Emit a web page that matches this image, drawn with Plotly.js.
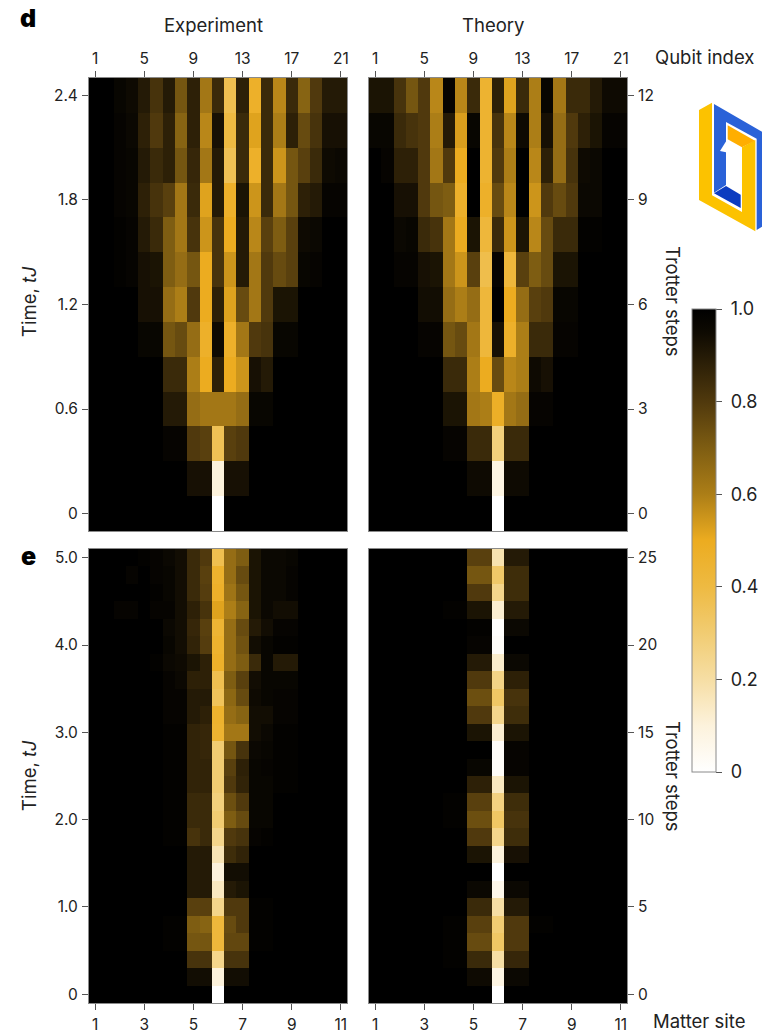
<!DOCTYPE html>
<html><head><meta charset="utf-8">
<script src="https://cdn.plot.ly/plotly-3.0.1.min.js"></script>
<style>html,body{margin:0;padding:0;background:#fff}#c{width:762px;height:1033px}</style>
</head><body><div id="c"></div>
<script>
// Rows listed from the top of each panel (latest Trotter step) down to step 0; 21 columns each.
const dExperiment = [
[1,1,.97,.95,.9,.82,.9,.72,.88,.62,.85,.37,.88,.47,.85,.58,.85,.68,.8,.9,.9],
[1,1,.98,.96,.88,.8,.88,.68,.88,.58,.93,.4,.85,.52,.85,.6,.88,.75,.82,.93,.93],
[1,1,.98,.97,.9,.85,.88,.72,.86,.62,.9,.36,.85,.47,.85,.55,.72,.78,.85,.95,.96],
[1,1,.98,.97,.88,.82,.78,.62,.85,.52,.9,.47,.92,.55,.85,.62,.72,.88,.9,.98,.98],
[1,1,.99,.98,.9,.85,.7,.62,.82,.55,.82,.5,.9,.58,.78,.7,.78,.95,.96,1,1],
[1,1,.99,.98,.93,.92,.7,.65,.72,.5,.82,.55,.9,.62,.8,.75,.78,.97,.98,1,1],
[1,1,1,1,.93,.93,.65,.6,.8,.5,.88,.52,.75,.62,.8,.92,.92,1,1,1,1],
[1,1,1,1,.97,.97,.72,.75,.65,.47,.95,.47,.62,.8,.82,.97,.97,1,1,1,1],
[1,1,1,1,1,1,.85,.85,.6,.5,.88,.5,.55,.93,.9,1,1,1,1,1,1],
[1,1,1,1,1,1,.9,.9,.65,.62,.62,.62,.65,.97,.97,1,1,1,1,1,1],
[1,1,1,1,1,1,.98,.98,.8,.78,.36,.78,.8,1,1,1,1,1,1,1,1],
[1,1,1,1,1,1,1,1,.93,.93,.1,.93,.93,1,1,1,1,1,1,1,1],
[1,1,1,1,1,1,1,1,1,1,0,1,1,1,1,1,1,1,1,1,1]
];
const dTheory = [
[.92,.92,.82,.72,.8,.58,.98,.58,.85,.45,.88,.52,.85,.6,.97,.62,.85,.85,.9,.95,.95],
[.97,.97,.85,.82,.8,.6,.9,.53,.97,.45,.82,.58,.95,.6,.93,.65,.8,.88,.92,.98,.98],
[1,.98,.88,.88,.8,.62,.8,.5,1,.45,.8,.6,1,.58,.88,.65,.82,.95,.96,1,1],
[1,1,.93,.93,.8,.72,.7,.47,1,.47,.75,.58,1,.55,.8,.75,.8,.96,.96,1,1],
[1,1,.96,.97,.85,.82,.62,.5,.92,.42,.85,.55,.92,.58,.75,.85,.85,.99,.99,1,1],
[1,1,.98,.98,.93,.92,.62,.55,.78,.38,.98,.42,.78,.7,.75,.92,.92,1,1,1,1],
[1,1,1,1,.94,.94,.65,.6,.65,.42,1,.5,.65,.78,.8,.97,.97,1,1,1,1],
[1,1,1,1,.98,.98,.72,.75,.62,.42,.93,.47,.6,.85,.85,.98,.98,1,1,1,1],
[1,1,1,1,1,1,.85,.85,.6,.5,.75,.58,.6,.95,.93,1,1,1,1,1,1],
[1,1,1,1,1,1,.92,.92,.62,.6,.48,.62,.65,.98,.98,1,1,1,1,1,1],
[1,1,1,1,1,1,.98,.98,.85,.85,.28,.85,.85,1,1,1,1,1,1,1,1],
[1,1,1,1,1,1,1,1,.95,.95,.08,.95,.95,1,1,1,1,1,1,1,1],
[1,1,1,1,1,1,1,1,1,1,0,1,1,1,1,1,1,1,1,1,1]
];
const eExperiment = [
[1,1,1,1,.99,.98,.96,.94,.85,.8,.37,.65,.7,.92,.96,.96,.97,1,1,1,1],
[1,1,1,.98,1,.98,.97,.94,.85,.78,.46,.65,.75,.92,.96,.96,.98,1,1,1,1],
[1,1,1,1,1,.99,.97,.94,.85,.79,.47,.63,.72,.92,.96,.96,.98,1,1,1,1],
[1,1,.98,.98,1,.98,.98,.94,.88,.82,.52,.6,.68,.92,.96,.94,.94,1,1,1,1],
[1,1,1,1,1,1,.96,.94,.86,.78,.44,.65,.75,.9,.94,.98,.98,1,1,1,1],
[1,1,1,1,1,1,.97,.94,.87,.79,.46,.65,.73,.94,.97,.99,.99,1,1,1,1],
[1,1,1,1,1,.99,.96,.95,.92,.88,.47,.65,.7,.85,.97,.9,.9,1,1,1,1],
[1,1,1,1,1,1,.98,.96,.88,.88,.37,.7,.78,.94,.97,.97,.97,1,1,1,1],
[1,1,1,1,1,1,.98,.98,.9,.9,.35,.67,.75,.95,.97,.98,.98,1,1,1,1],
[1,1,1,1,1,1,.98,.98,.9,.88,.46,.65,.68,.94,.94,.98,.98,1,1,1,1],
[1,1,1,1,1,1,.99,.99,.87,.86,.45,.62,.62,.94,.96,.99,.99,1,1,1,1],
[1,1,1,1,1,1,.99,.99,.87,.86,.3,.72,.82,.96,.97,.99,.99,1,1,1,1],
[1,1,1,1,1,1,.99,.99,.87,.87,.3,.78,.88,.97,.98,.99,.99,1,1,1,1],
[1,1,1,1,1,1,.99,.99,.87,.87,.3,.8,.87,.97,.97,.99,.99,1,1,1,1],
[1,1,1,1,1,1,.99,.99,.85,.85,.28,.74,.8,.97,.97,1,1,1,1,1,1],
[1,1,1,1,1,1,.99,.99,.85,.85,.3,.7,.75,.97,.97,1,1,1,1,1,1],
[1,1,1,1,1,1,.99,.99,.82,.85,.25,.8,.82,.98,.99,1,1,1,1,1,1],
[1,1,1,1,1,1,1,1,.9,.9,.17,.84,.87,1,1,1,1,1,1,1,1],
[1,1,1,1,1,1,1,1,.9,.9,.1,.94,.94,1,1,1,1,1,1,1,1],
[1,1,1,1,1,1,1,1,.9,.9,.15,.9,.92,1,1,1,1,1,1,1,1],
[1,1,1,1,1,1,1,1,.78,.78,.25,.8,.8,.99,.99,1,1,1,1,1,1],
[1,1,1,1,1,1,.99,.99,.7,.68,.42,.75,.8,.99,.99,1,1,1,1,1,1],
[1,1,1,1,1,1,.99,.99,.72,.72,.42,.76,.76,.99,.99,1,1,1,1,1,1],
[1,1,1,1,1,1,1,1,.82,.82,.25,.82,.82,1,1,1,1,1,1,1,1],
[1,1,1,1,1,1,1,1,.94,.94,.1,.94,.94,1,1,1,1,1,1,1,1],
[1,1,1,1,1,1,1,1,1,1,0,1,1,1,1,1,1,1,1,1,1]
];
const eTheory = [
[1,1,1,1,1,1,1,1,.78,.78,.18,.9,.9,1,1,1,1,1,1,1,1],
[1,1,1,1,1,1,1,1,.72,.72,.32,.84,.84,1,1,1,1,1,1,1,1],
[1,1,1,1,1,1,1,1,.8,.8,.25,.84,.84,1,1,1,1,1,1,1,1],
[1,1,1,1,1,1,.99,.99,.92,.92,.12,.9,.9,1,1,1,1,1,1,1,1],
[1,1,1,1,1,1,1,1,.99,.99,.01,.96,.96,1,1,1,1,1,1,1,1],
[1,1,1,1,1,1,1,1,.98,.98,.02,1,1,1,1,1,1,1,1,1,1],
[1,1,1,1,1,1,1,1,.9,.9,.13,.96,.96,1,1,1,1,1,1,1,1],
[1,1,1,1,1,1,1,1,.8,.8,.26,.88,.88,1,1,1,1,1,1,1,1],
[1,1,1,1,1,1,1,1,.74,.74,.33,.82,.82,1,1,1,1,1,1,1,1],
[1,1,1,1,1,1,1,1,.8,.8,.25,.84,.84,1,1,1,1,1,1,1,1],
[1,1,1,1,1,1,1,1,.92,.92,.12,.92,.92,1,1,1,1,1,1,1,1],
[1,1,1,1,1,1,1,1,1,1,.02,.98,.98,1,1,1,1,1,1,1,1],
[1,1,1,1,1,1,1,1,.97,.97,.02,.98,.98,1,1,1,1,1,1,1,1],
[1,1,1,1,1,1,1,1,.88,.88,.15,.92,.92,1,1,1,1,1,1,1,1],
[1,1,1,1,1,1,.99,.99,.78,.78,.27,.84,.84,1,1,1,1,1,1,1,1],
[1,1,1,1,1,1,.99,.99,.74,.74,.33,.82,.82,1,1,1,1,1,1,1,1],
[1,1,1,1,1,1,1,1,.8,.8,.25,.84,.84,1,1,1,1,1,1,1,1],
[1,1,1,1,1,1,1,1,.92,.92,.1,.93,.93,1,1,1,1,1,1,1,1],
[1,1,1,1,1,1,1,1,1,1,0,1,1,1,1,1,1,1,1,1,1],
[1,1,1,1,1,1,1,1,.96,.96,.06,.96,.96,1,1,1,1,1,1,1,1],
[1,1,1,1,1,1,1,1,.85,.85,.2,.9,.9,1,1,1,1,1,1,1,1],
[1,1,1,1,1,1,.99,.99,.78,.78,.3,.8,.8,.99,.99,1,1,1,1,1,1],
[1,1,1,1,1,1,.99,.99,.75,.75,.33,.8,.8,1,1,1,1,1,1,1,1],
[1,1,1,1,1,1,.99,.99,.85,.85,.2,.86,.86,1,1,1,1,1,1,1,1],
[1,1,1,1,1,1,1,1,.95,.95,.08,.96,.96,1,1,1,1,1,1,1,1],
[1,1,1,1,1,1,1,1,1,1,0,1,1,1,1,1,1,1,1,1,1]
];
const qubitIndex = Array.from({length:21},(_,i)=>i+1);
const dSteps = Array.from({length:13},(_,i)=>i);
const eSteps = Array.from({length:26},(_,i)=>i);
const qubitTicks = [1,5,9,13,17,21];
const matterLabels = ['1','3','5','7','9','11'];
const dStepTicks = [0,3,6,9,12];
const dTimeLabels = ['0','0.6','1.2','1.8','2.4'];
const eStepTicks = [0,5,10,15,20,25];
const eTimeLabels = ['0','1.0','2.0','3.0','4.0','5.0'];
const colorbarTicks = [0,.2,.4,.6,.8,1];
const colorbarLabels = ['\u00A00','\u00A00.2','\u00A00.4','\u00A00.6','\u00A00.8','\u00A01.0'];
const colorStops = [[0,'#ffffff'],[.1,'#fcf2dc'],[.2,'#f6dea4'],[.3,'#f1cc72'],[.4,'#eeba42'],[.5,'#ecac20'],
 [.6,'#ac7e17'],[.7,'#7e5d12'],[.8,'#50390d'],[.9,'#241a06'],[.95,'#0e0a02'],[1,'#000000']];

const W=762,H=1033, FONT='Inter, "Noto Sans", sans-serif', TXT='#222';
const fx=p=>p/W, fy=p=>1-p/H;
const L=[89,347], R=[369,627], D=[78,531], E=[549,1003];

const hm=(rows,x,y,xa,ya)=>({type:'heatmap',z:rows.slice().reverse(),x,y,xaxis:xa,yaxis:ya,coloraxis:'coloraxis',zsmooth:false,hoverinfo:'skip'});
const data=[
 hm(dExperiment,qubitIndex,dSteps,'x','y'),
 hm(dTheory,qubitIndex,dSteps,'x2','y2'),
 hm(eExperiment,qubitIndex,eSteps,'x3','y3'),
 hm(eTheory,qubitIndex,eSteps,'x4','y4')
];
const base={showline:true,mirror:true,linecolor:'#8a8a8a',linewidth:1,showgrid:false,zeroline:false,ticks:'outside',ticklen:6,tickwidth:1,tickcolor:'#555',
 ticklabelstandoff:1,tickfont:{family:FONT,size:15.5,color:TXT},fixedrange:true};
const xax=(dom,side,labels)=>Object.assign({},base,{domain:[fx(dom[0]),fx(dom[1])],range:[.5,21.5],side,tickmode:'array',tickvals:qubitTicks,ticktext:labels});
const yax=(dom,n,side,tv,tt)=>Object.assign({},base,{domain:[fy(dom[1]),fy(dom[0])],range:[-.5,n-.5],side,tickmode:'array',tickvals:tv,ticktext:tt});
const qLabels=qubitTicks.map(String);
const note=(text,x,y,size,extra)=>Object.assign({text,xref:'paper',yref:'paper',x:fx(x),y:fy(y),xanchor:'center',yanchor:'middle',showarrow:false,
 font:{family:FONT,size,color:TXT}},extra||{});
const poly=(pts,fill)=>({type:'path',xref:'paper',yref:'paper',fillcolor:fill,line:{width:0},layer:'above',
 path:'M'+pts.map(p=>fx(640+p[0]/3)+','+fy(90+p[1]/3)).join('L')+'Z'});
const layout={
 width:W,height:H,margin:{l:0,r:0,t:0,b:0},paper_bgcolor:'#fff',plot_bgcolor:'#000',showlegend:false,
 coloraxis:{cmin:0,cmax:1,colorscale:colorStops,colorbar:{
   thickness:24,thicknessmode:'pixels',len:463,lenmode:'pixels',x:fx(692),xanchor:'left',xpad:0,y:fy(309),yanchor:'top',ypad:0,
   outlinecolor:'#8a8a8a',outlinewidth:1,ticks:'outside',ticklen:6,tickwidth:1,tickcolor:'#555',
   tickmode:'array',tickvals:colorbarTicks,ticktext:colorbarLabels,tickfont:{family:FONT,size:18,color:TXT}}},
 xaxis:xax(L,'top',qLabels),yaxis:Object.assign(yax(D,13,'left',dStepTicks,dTimeLabels),{anchor:'x'}),
 xaxis2:Object.assign(xax(R,'top',qLabels),{anchor:'y2'}),yaxis2:Object.assign(yax(D,13,'right',dStepTicks,dStepTicks.map(String)),{anchor:'x2'}),
 xaxis3:Object.assign(xax(L,'bottom',matterLabels),{anchor:'y3'}),yaxis3:Object.assign(yax(E,26,'left',eStepTicks,eTimeLabels),{anchor:'x3'}),
 xaxis4:Object.assign(xax(R,'bottom',matterLabels),{anchor:'y4'}),yaxis4:Object.assign(yax(E,26,'right',eStepTicks,eStepTicks.map(String)),{anchor:'x4'}),
 annotations:[
  note('d',28,18,25,{font:{family:FONT,size:25,color:'#000',weight:900}}),
  note('e',28,556,25,{font:{family:FONT,size:25,color:'#000',weight:900}}),
  note('Experiment',213,25,18.5),
  note('Theory',493,25,18.5),
  note('Qubit index',704,57,18.5),
  note('Matter site',699,1021,18.5),
  note('Time, <i>tJ</i>',29,302,18.5,{textangle:-90}),
  note('Time, <i>tJ</i>',29,776,18.5,{textangle:-90}),
  note('Trotter steps',673,301,18.5,{textangle:90}),
  note('Trotter steps',673,776,18.5,{textangle:90})
 ],
 shapes:[
  poly([[306,172],[346,150],[346,424],[177,330],[177,60],[216,38],[216,316],[306,366]],'#fcc200'),
  poly([[222,42],[366,125],[366,410],[350,420],[350,146],[258,96],[258,285],[222,308]],'#2a62d8'),
  poly([[222,310],[258,288],[302,314],[302,354]],'#0c3cc0'),
  poly([[263,106],[345,152],[306,172],[263,148]],'#ffae00'),
  poly([[262,148],[240,183],[258,187]],'#ffffff')
 ]
};
Plotly.newPlot('c',data,layout,{displayModeBar:false,staticPlot:true});
</script></body></html>
